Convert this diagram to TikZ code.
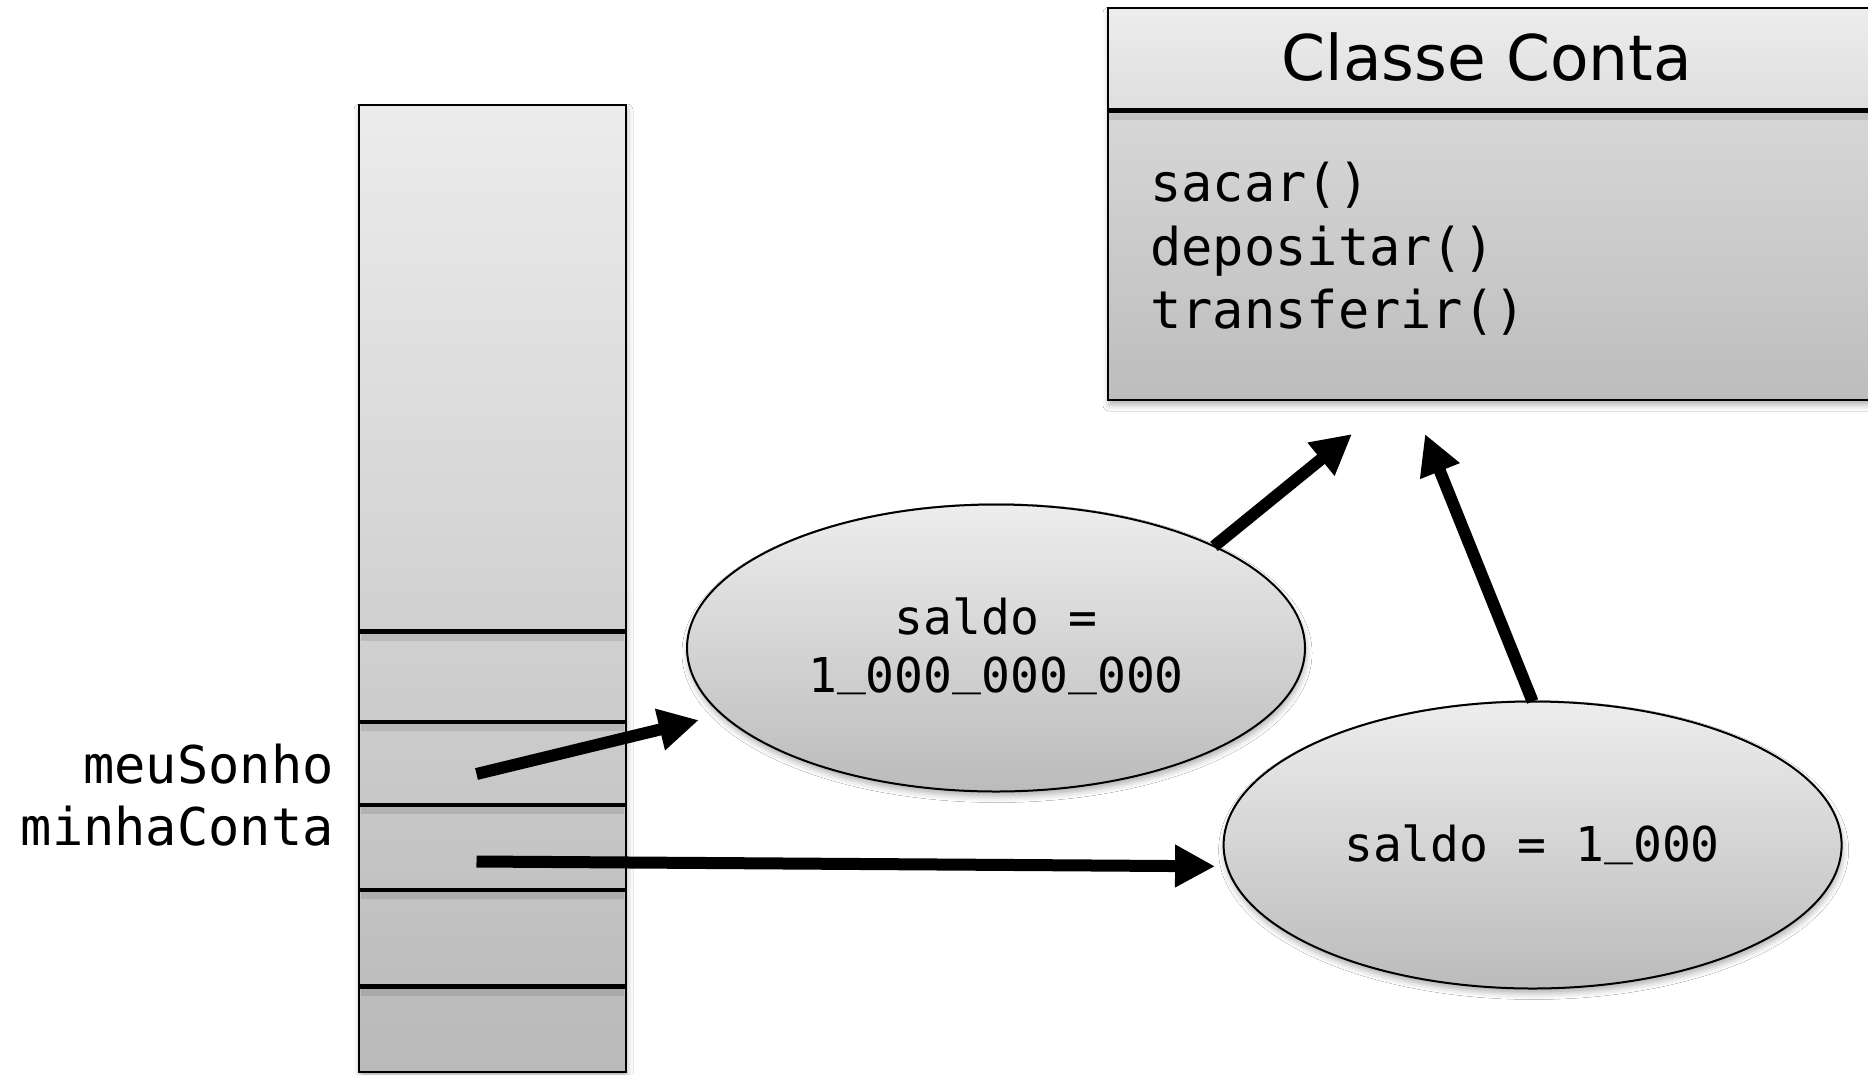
\documentclass[tikz,border=0pt]{standalone}
\usepackage{fontspec}
\usetikzlibrary{arrows.meta,shapes.geometric,shadows.blur}
\newfontfamily\codefont{DejaVu Sans Mono}
\newfontfamily\titlefont{DejaVu Sans}
\newcommand\digitsep{\raisebox{0.17em}{\_}}
\definecolor{stackTop}{HTML}{ECECEC}
\definecolor{stackBot}{HTML}{B9B9B9}
\definecolor{headTop}{HTML}{EDEDED}
\definecolor{headBot}{HTML}{DEDEDE}
\definecolor{bodyTop}{HTML}{E0E0E0}
\definecolor{bodyBot}{HTML}{BDBDBD}
\definecolor{objTop}{HTML}{EDEDED}
\definecolor{objBot}{HTML}{BBBBBB}
\begin{document}
\begin{tikzpicture}[x=1pt,y=-1pt,
  panel/.style={draw=black, line width=2.5pt, inner sep=0pt, outer sep=0pt},
  softshadow/.style={blur shadow={shadow xshift=1pt, shadow yshift=-5pt,
      shadow blur radius=6pt, shadow opacity=30}},
  cell/.style={line width=4.5pt},
  cellshade/.style={line width=8pt, black, opacity=0.10},
  ref/.style={line width=12pt, -{Triangle[length=40pt,width=40pt]}},
  code/.style={font={\codefont\fontsize{52}{62}\selectfont}, inner sep=0pt},
  val/.style={font={\codefont\fontsize{48}{58}\selectfont}, inner sep=0pt},
  obj/.style={ellipse, draw=black, line width=2pt, minimum width=618pt,
      minimum height=287pt, inner sep=0pt, outer sep=0pt,
      top color=objTop, bottom color=objBot, softshadow}]
\fill[white] (0,0) rectangle (1868,1074);
\useasboundingbox (0,0) rectangle (1868,1074);
\clip (0,0) rectangle (1868,1074);

% memory stack
\node[panel, softshadow, top color=stackTop, bottom color=stackBot,
      minimum width=267pt, minimum height=967pt, anchor=north west] (stack) at (359,105) {};
\foreach \yy in {631.5,722,805,890,986.5} {
  \draw[cellshade] (361,\yy+5) -- (624,\yy+5);
  \draw[cell] (359,\yy) -- (626,\yy);
}

% variable names
\node[code, anchor=base east] (lblSonho) at (334,783) {meuSonho};
\node[code, anchor=base east] (lblConta) at (334,845) {minhaConta};

% class box
\node[panel, softshadow, top color=bodyTop, bottom color=bodyBot,
      minimum width=790pt, minimum height=392pt, anchor=north west] (cls) at (1108,8) {};
\node[panel, top color=headTop, bottom color=headBot,
      minimum width=790pt, minimum height=102.5pt, anchor=north west] (head) at (1108,8) {};
\draw[cellshade] ([yshift=-5pt]head.south west) -- ([yshift=-5pt]head.south east);
\draw[line width=4.5pt] (head.south west) -- (head.south east);
\node[font={\titlefont\fontsize{63}{75}\selectfont}, anchor=base, inner sep=0pt] (title) at (1487,80) {Classe Conta};
\node[code, anchor=base west] (mSacar) at (1150,201.7) {sacar()};
\node[code, anchor=base west] (mDep) at (1150,265) {depositar()};
\node[code, anchor=base west] (mTrans) at (1150,328.3) {transferir()};

% objects
\node[obj] (e1) at (996,648) {};
\node[obj] (e2) at (1532.6,845) {};
\node[val, anchor=base] (v1a) at (996,634) {saldo =};
\node[val, anchor=base] (v1b) at (996,692) {1\digitsep000\digitsep000\digitsep000};
\node[val, anchor=base] (v2) at (1532,861.7) {saldo = 1\digitsep000};

% references
\coordinate (pSonho) at (476.5,774);
\coordinate (pConta) at (476.5,861.5);
\coordinate (t3) at (1352,434);
\coordinate (t4) at (1425,434);
\draw[ref, shorten >=24pt] (pSonho) -- (e1);
\draw[ref, shorten >=12pt] (pConta) -- (e2.184);
\draw[ref] (e1.25) -- (t3);
\draw[ref] (e2.north) -- (t4);
\end{tikzpicture}
\end{document}
